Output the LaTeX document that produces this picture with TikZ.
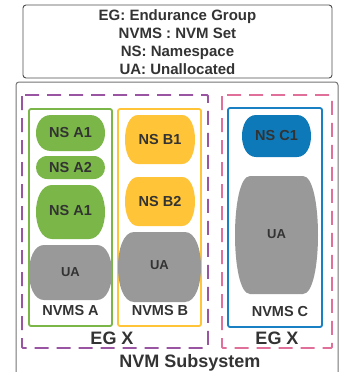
\documentclass[tikz,border=0pt]{standalone}
\usepackage{fontspec}
\setmainfont{Liberation Sans}
\definecolor{txt}{HTML}{333333}
\definecolor{grn}{HTML}{7AB648}
\definecolor{yel}{HTML}{FFC438}
\definecolor{blu}{HTML}{0E79B8}
\definecolor{blub}{HTML}{1A80C4}
\definecolor{gry}{HTML}{999999}
\definecolor{pur}{HTML}{9A55A2}
\definecolor{pnk}{HTML}{E0709A}
\newcommand\barrelshape[6]{%
  \path[#1] ({#2+#6},#3) -- ({#4-#6},#3)
    .. controls ({#4+#6/3},#3) and ({#4+#6/3},#5) .. ({#4-#6},#5)
    -- ({#2+#6},#5)
    .. controls ({#2-#6/3},#5) and ({#2-#6/3},#3) .. cycle;}
\tikzset{
  lbl/.style={text=txt,font=\bfseries\fontsize{14.5}{16}\selectfont,inner sep=0pt},
  ualbl/.style={text=txt,font=\bfseries\fontsize{13}{15}\selectfont,inner sep=0pt},
  biglbl/.style={text=txt,font=\bfseries\fontsize{18}{20}\selectfont,inner sep=0pt},
  leglbl/.style={text=txt,font=\bfseries\fontsize{15}{18}\selectfont,align=center,inner sep=0pt},
  frame/.style={rounded corners=2pt,line width=1.8pt},
  egbox/.style={dash pattern=on 14pt off 8pt,line width=1.8pt,rounded corners=1pt},
}
\begin{document}
\begin{tikzpicture}[x=1pt,y=-1pt]
\useasboundingbox (0,0) rectangle (349,372);
\clip (0,0) rectangle (349,372);
% legend
\draw[draw=black!70,line width=0.9pt,rounded corners=3pt] (23,5) rectangle (332,78);
\node[leglbl] (legend) at (177.5,42) {EG: Endurance Group\\NVMS : NVM Set\\NS: Namespace\\UA: Unallocated};
% subsystem
\draw[draw=black!55,line width=1pt,rounded corners=3pt] (16,82) rectangle (338,400);
% EG boxes
\draw[egbox,draw=pur] (22,95) rectangle (208,348);
\draw[egbox,draw=pnk] (222,95) rectangle (332,348);
% NVMS boxes
\draw[frame,draw=grn] (29,109) rectangle (112,326);
\draw[frame,draw=yel] (118,109) rectangle (201,326);
\draw[frame,draw=blub] (228,108) rectangle (322,327);
% NVMS A shapes
\barrelshape{fill=grn}{36}{115}{105}{151}{15}
\barrelshape{fill=grn}{36}{156}{105}{179}{11.5}
\barrelshape{fill=grn}{36}{185}{105}{239}{16}
\barrelshape{fill=gry}{29}{245}{112}{300}{15}
% NVMS B shapes
\barrelshape{fill=yel}{125}{115}{195}{164}{13}
\barrelshape{fill=yel}{125}{177}{195}{226}{13}
\barrelshape{fill=gry}{118}{232}{201}{302}{16}
% NVMS C shapes
\barrelshape{fill=blu}{242}{115}{311}{157}{14}
\barrelshape{fill=gry}{235}{176}{318}{294}{15}
% labels
\node[lbl] (nsa1) at (70.5,133) {NS A1};
\node[lbl] (nsa2) at (70.5,167.5) {NS A2};
\node[lbl] (nsa3) at (70.5,211) {NS A1};
\node[ualbl] (uaa) at (70.5,272) {UA};
\node[lbl] (nsb1) at (160,139.5) {NS B1};
\node[lbl] (nsb2) at (160,201.5) {NS B2};
\node[ualbl] (uab) at (159.5,265) {UA};
\node[lbl] (nsc1) at (276.5,136) {NS C1};
\node[ualbl] (uac) at (276.5,234) {UA};
\node[lbl] (nvmsa) at (70.5,311) {NVMS A};
\node[lbl] (nvmsb) at (160,311) {NVMS B};
\node[lbl] (nvmsc) at (280,312) {NVMS C};
\node[biglbl] (egx1) at (112,338.5) {EG X};
\node[biglbl] (egx2) at (277,338.5) {EG X};
\node[biglbl] (nvmsub) at (190,363) {NVM Subsystem};
\end{tikzpicture}
\end{document}
